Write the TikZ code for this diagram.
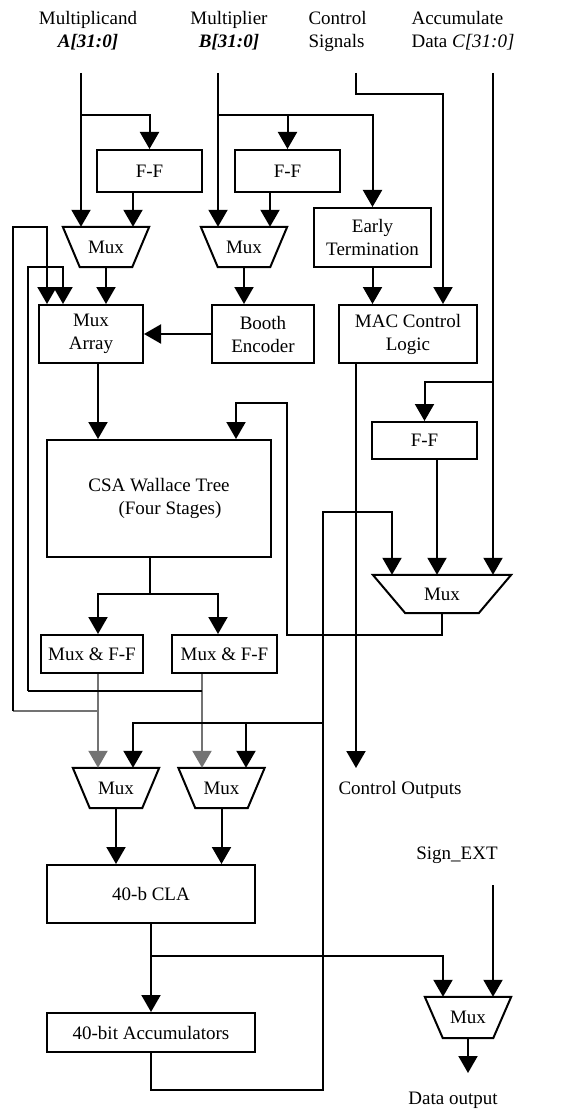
\documentclass[tikz,border=0pt]{standalone}
\usepackage{fontspec}
\setmainfont{Liberation Serif}
\usetikzlibrary{arrows.meta,positioning,calc}

\begin{document}
\begin{tikzpicture}[x=1pt,y=-1pt,
    every node/.style={font=\fontsize{19}{23}\selectfont},
    blk/.style={draw,line width=2pt,inner sep=0pt,align=center},
    mux/.style={inner sep=0pt,minimum width=86pt,minimum height=40pt},
    wire/.style={line width=2pt},
    arr/.style={wire,-{Triangle[length=17pt,width=19pt]}},
    gwire/.style={wire,black!55}]
  \useasboundingbox (0,0) rectangle (586,1115);

  % inputs
  \node[align=center] (inA) at (88,31) {Multiplicand\\\textbf{\textit{A[31:0]}}};
  \node[align=center] (inB) at (229,31) {Multiplier\\\textbf{\textit{B[31:0]}}};
  \node[align=left,anchor=west] (ctlIn) at (305,31) {Control\\Signals};
  \node[align=left,anchor=west] (accIn) at (408,31) {Accumulate\\Data \textit{C[31:0]}};
  \coordinate (aIn) at (81,73);
  \coordinate (bIn) at (218,73);
  \coordinate (cIn) at (356,73);
  \coordinate (dIn) at (493,73);

  % blocks
  \node[blk,minimum width=105pt,minimum height=42pt] (ffA) at (149.5,171) {F-F};
  \node[blk,minimum width=105pt,minimum height=42pt] (ffB) at (287.5,171) {F-F};
  \node[mux] (muxA) at (106,247) {Mux};
  \node[mux] (muxB) at (244,247) {Mux};
  \node[blk,minimum width=117pt,minimum height=59pt] (early) at (372.5,237.5) {Early\\Termination};
  \node[blk,minimum width=104pt,minimum height=58pt] (muxArr) at (91,334) {Mux\\Array};
  \node[blk,minimum width=102pt,minimum height=58pt] (booth) at (263,334) {Booth\\Encoder};
  \node[blk,minimum width=138pt,minimum height=58pt] (mac) at (408,334) {MAC Control\\Logic};
  \node[blk,minimum width=105pt,minimum height=37pt] (ffC) at (424.5,440.5) {F-F};
  \node[blk,minimum width=224pt,minimum height=117pt] (csa) at (159,498.5)
    {CSA Wallace Tree\\\hspace*{22pt}(Four Stages)};
  \node[mux,minimum width=138pt,minimum height=38pt] (muxC) at (442,594) {Mux};
  \node[blk,minimum width=102pt,minimum height=38pt] (mff1) at (92,654) {Mux \& F-F};
  \node[blk,minimum width=105pt,minimum height=38pt] (mff2) at (224.5,654) {Mux \& F-F};
  \node[mux] (muxD) at (116,788) {Mux};
  \node[mux] (muxE) at (221.5,788) {Mux};
  \node[blk,minimum width=208pt,minimum height=58pt] (cla) at (151,894) {40-b CLA};
  \node[blk,minimum width=208pt,minimum height=39pt] (acc) at (151,1032.5) {40-bit Accumulators};
  \node[mux,minimum height=41pt] (muxF) at (468,1017.5) {Mux};

  % mux outlines, wide side on top
  \foreach \m/\d in {muxA/17,muxB/17,muxC/32.5,muxD/17,muxE/17,muxF/18}
    \draw[wire] (\m.north west) -- (\m.north east) -- ([xshift=-\d pt]\m.south east)
      -- ([xshift=\d pt]\m.south west) -- cycle;

  % outputs
  \node (ctlOut) at (400,790) {Control Outputs};
  \node (signExt) at (457,855) {Sign\_EXT};
  \node (dataOut) at (453,1100) {Data output};
  \coordinate (sIn) at (493,885);
  \coordinate (ctlEnd) at (356,768);
  \coordinate (dataEnd) at (468,1073);
  \coordinate (csaSplit) at (150,594);
  \coordinate (accSplit) at (323,723);
  \coordinate (fbA) at (13,711);
  \coordinate (fbB) at (28,691);

  % operand paths
  \draw[arr] (aIn) -- (aIn |- muxA.north);
  \draw[arr] (aIn |- 0,115) -| (ffA.north);
  \draw[arr] (133,0 |- ffA.south) -- (133,0 |- muxA.north);
  \draw[arr] (bIn) -- (bIn |- muxB.north);
  \draw[arr] (bIn |- 0,115) -| (early.north);
  \draw[arr] (ffB.north |- 0,115) -- (ffB.north);
  \draw[arr] (270,0 |- ffB.south) -- (270,0 |- muxB.north);
  \draw[arr] (cIn) -- (356,94) -| (443,0 |- mac.north);
  \draw[arr] (muxA.south) -- (muxA.south |- muxArr.north);
  \draw[arr] (muxB.south) -- (muxB.south |- booth.north);
  \draw[arr] (booth.west) -- (muxArr.east);
  \draw[arr] (early.south) -- (early.south |- mac.north);
  \draw[arr] (356,0 |- mac.south) -- (ctlEnd);

  % accumulate input
  \draw[arr] (dIn) -- (dIn |- muxC.north);
  \draw[arr] (dIn |- 0,382) -| (ffC.north);
  \draw[arr] (437,0 |- ffC.south) -- (437,0 |- muxC.north);

  % tree and feedback
  \draw[arr] (98,0 |- muxArr.south) -- (98,0 |- csa.north);
  \draw[arr] (muxC.south) |- (287,635) |- (236,403) -- (236,0 |- csa.north);
  \draw[arr] (150,0 |- csa.south) -- (csaSplit) -| (98,0 |- mff1.north);
  \draw[arr] (csaSplit) -| (218,0 |- mff2.north);
  \draw[arr,gwire] (98,0 |- mff1.south) -- (98,0 |- muxD.north);
  \draw[gwire] (fbA -| 98,0) -- (fbA);
  \draw[arr] (fbA) |- (47,227) -- (47,0 |- muxArr.north);
  \draw[arr,gwire] (202,0 |- mff2.south) -- (202,0 |- muxE.north);
  \draw[wire] (fbB -| 202,0) -- (fbB);
  \draw[arr] (fbB) |- (63,267) -- (63,0 |- muxArr.north);

  % final add and accumulate
  \draw[arr] (acc.south) |- (323,1090) |- (392,512) -- (392,0 |- muxC.north);
  \draw[arr] (accSplit) -| (133,0 |- muxD.north);
  \draw[arr] (246,0 |- accSplit) -- (246,0 |- muxE.north);
  \draw[arr] (muxD.south) -- (muxD.south |- cla.north);
  \draw[arr] (muxE.south) -- (muxE.south |- cla.north);
  \draw[arr] (cla.south) -- (acc.north);
  \draw[arr] (cla.south |- 0,956) -| (443,0 |- muxF.north);
  \draw[arr] (sIn) -- (sIn |- muxF.north);
  \draw[arr] (muxF.south) -- (dataEnd);
\end{tikzpicture}
\end{document}
